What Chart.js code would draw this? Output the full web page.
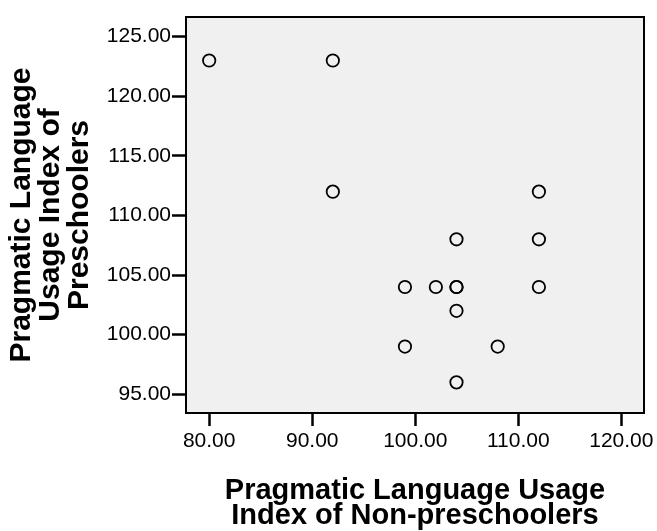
<!DOCTYPE html>
<html>
<head>
<meta charset="utf-8">
<script src="https://cdn.jsdelivr.net/npm/chart.js@4.4.0/dist/chart.umd.min.js"></script>
<style>
  body { margin: 0; background: #fff; }
  #wrap { width: 657px; height: 531px; }
</style>
</head>
<body>
<div id="wrap"><canvas id="chart" width="657" height="531"></canvas></div>
<script>
// data
const nonPreschool = [80, 92, 92, 112, 104, 112, 99, 102, 104, 104, 112, 104, 99, 108, 104];
const preschool    = [123, 123, 112, 112, 108, 108, 104, 104, 104, 104, 104, 102, 99, 99, 96];
const xTicks = [80, 90, 100, 110, 120];
const yTicks = [95, 100, 105, 110, 115, 120, 125];
const xTitle = ["Pragmatic Language Usage", "Index of Non-preschoolers"];
const yTitle = ["Pragmatic Language", "Usage Index of", "Preschoolers"];

const points = nonPreschool.map((x, i) => ({ x: x, y: preschool[i] }));

// grey plot area + black frame, like SPSS
const frame = {
  id: "frame",
  beforeDatasetsDraw(chart) {
    const { ctx, chartArea: a } = chart;
    ctx.save();
    ctx.fillStyle = "#f0f0f0";
    ctx.fillRect(a.left, a.top, a.right - a.left, a.bottom - a.top);
    ctx.restore();
  },
  afterDraw(chart) {
    const { ctx, chartArea: a } = chart;
    ctx.save();
    ctx.strokeStyle = "#000";
    ctx.lineWidth = 2;
    ctx.strokeRect(a.left, a.top, a.right - a.left, a.bottom - a.top);
    ctx.restore();
  }
};

const tickFont = { family: "'Liberation Sans', Arial, sans-serif", size: 21 };
const titleFont = { family: "'Liberation Sans', Arial, sans-serif", weight: "bold" };

new Chart(document.getElementById("chart"), {
  type: "scatter",
  data: {
    datasets: [{
      data: points,
      pointRadius: 6.2,
      pointHoverRadius: 6.2,
      borderColor: "#000",
      borderWidth: 1.8,
      backgroundColor: "rgba(0,0,0,0)"
    }]
  },
  options: {
    responsive: false,
    animation: false,
    layout: { padding: { left: 0, right: 11, top: 17, bottom: 0 } },
    plugins: { legend: { display: false }, tooltip: { enabled: false } },
    scales: {
      x: {
        type: "linear",
        min: 77.75,
        max: 122.2,
        afterBuildTicks: s => { s.ticks = xTicks.map(v => ({ value: v })); },
        afterFit: s => { s.height = 118; },
        grid: { drawOnChartArea: false, tickLength: 13, tickWidth: 2.5, tickColor: "#000" },
        border: { display: false },
        ticks: { color: "#000", font: tickFont, padding: 3, maxRotation: 0, callback: v => v.toFixed(2) },
        title: {
          display: true,
          text: xTitle,
          color: "#000",
          font: Object.assign({ size: 29, lineHeight: "25px" }, titleFont),
          padding: { top: 0, bottom: 3 }
        }
      },
      y: {
        type: "linear",
        min: 93.43,
        max: 126.65,
        afterBuildTicks: s => { s.ticks = yTicks.map(v => ({ value: v })); },
        afterFit: s => { s.width = 186; },
        grid: { drawOnChartArea: false, tickLength: 14, tickWidth: 2.5, tickColor: "#000" },
        border: { display: false },
        ticks: { color: "#000", font: tickFont, padding: 1, callback: v => v.toFixed(2) },
        title: {
          display: true,
          text: yTitle,
          color: "#000",
          font: Object.assign({ size: 30, lineHeight: "29px" }, titleFont),
          padding: { top: 7.5, bottom: 0 }
        }
      }
    }
  },
  plugins: [frame]
});
</script>
</body>
</html>
